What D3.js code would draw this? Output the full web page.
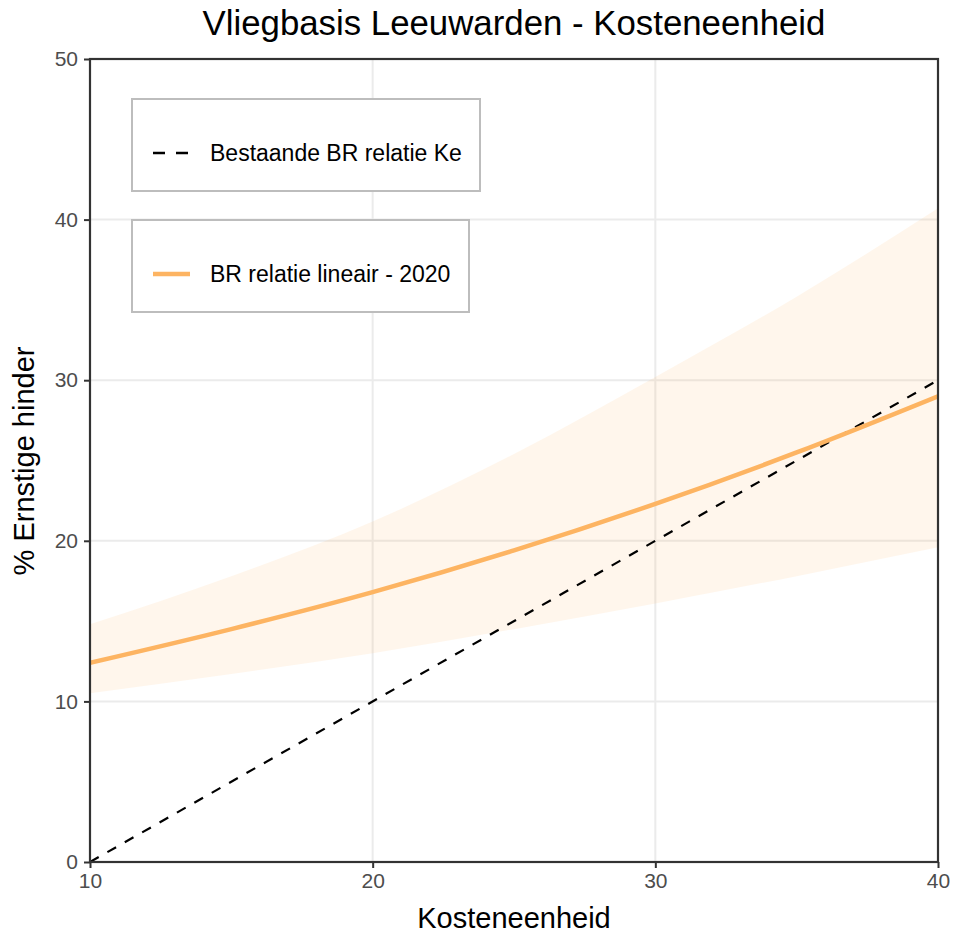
<!DOCTYPE html>
<html><head><meta charset="utf-8">
<script src="https://cdn.jsdelivr.net/npm/d3@7"></script>
<style>body{margin:0;background:#fff}svg{display:block}text{font-family:"Liberation Sans",Arial,sans-serif}</style>
</head><body><svg id="c" width="955" height="933"></svg>
<script>
const xValues = [10, 15, 20, 25, 30, 35, 40];
const fitValues = [12.4, 14.5, 16.8, 19.4, 22.3, 25.5, 29.0];
const upperValues = [14.8, 17.8, 21.2, 25.4, 30.2, 35.2, 40.7];
const lowerValues = [10.5, 11.7, 13.0, 14.5, 16.1, 17.8, 19.6];
const refX = [10, 40];
const refY = [0, 30];
const xTicks = [10, 20, 30, 40];
const yTicks = [0, 10, 20, 30, 40, 50];
const legendLabels = ["Bestaande BR relatie Ke", "BR relatie lineair - 2020"];

const svg = d3.select("#c");
const L = 90, R = 938, T = 59, B = 862;
const x = d3.scaleLinear().domain([10, 40]).range([L, R]);
const y = d3.scaleLinear().domain([0, 50]).range([B, T]);

// grid
const g = svg.append("g");
g.selectAll(".gx").data(xTicks).enter().append("line")
  .attr("x1", d => x(d)).attr("x2", d => x(d)).attr("y1", T).attr("y2", B)
  .attr("stroke", "#ebebeb").attr("stroke-width", 2);
g.selectAll(".gy").data(yTicks).enter().append("line")
  .attr("y1", d => y(d)).attr("y2", d => y(d)).attr("x1", L).attr("x2", R)
  .attr("stroke", "#ebebeb").attr("stroke-width", 2);

const pts = xValues.map((v, i) => ({x: v, f: fitValues[i], u: upperValues[i], l: lowerValues[i]}));
svg.append("clipPath").attr("id", "cl").append("rect")
  .attr("x", L).attr("y", T).attr("width", R - L).attr("height", B - T);
const pg = svg.append("g").attr("clip-path", "url(#cl)");
pg.append("path").datum(pts)
  .attr("d", d3.area().x(d => x(d.x)).y0(d => y(d.l)).y1(d => y(d.u)).curve(d3.curveMonotoneX))
  .attr("fill", "#fdb462").attr("fill-opacity", 0.12);
pg.append("path").datum(refX.map((v, i) => [v, refY[i]]))
  .attr("d", d3.line().x(d => x(d[0])).y(d => y(d[1])))
  .attr("fill", "none").attr("stroke", "#000").attr("stroke-width", 2.2).attr("stroke-dasharray", "10,10");
pg.append("path").datum(pts)
  .attr("d", d3.line().x(d => x(d.x)).y(d => y(d.f)).curve(d3.curveMonotoneX))
  .attr("fill", "none").attr("stroke", "#fdb462").attr("stroke-width", 4.5);

// axes
const xa = svg.append("g").attr("transform", `translate(0,${B})`)
  .call(d3.axisBottom(x).tickValues(xTicks).tickSize(6).tickPadding(5).tickFormat(d3.format("d")));
const ya = svg.append("g").attr("transform", `translate(${L},0)`)
  .call(d3.axisLeft(y).tickValues(yTicks).tickSize(6).tickPadding(6).tickFormat(d3.format("d")));
[xa, ya].forEach(a => {
  a.select(".domain").remove();
  a.attr("font-size", null).attr("font-family", null);
  a.selectAll("line").attr("stroke", "#333").attr("stroke-width", 2);
  a.selectAll("text").attr("fill", "#4d4d4d").style("font-size", "21px");
});
svg.append("rect").attr("x", L).attr("y", T).attr("width", R - L).attr("height", B - T)
  .attr("fill", "none").attr("stroke", "#333").attr("stroke-width", 2.2);

// titles
svg.append("text").attr("x", 514).attr("y", 35).attr("text-anchor", "middle")
  .style("font-size", "34.8px").attr("fill", "#000").text("Vliegbasis Leeuwarden - Kosteneenheid");
svg.append("text").attr("x", 514).attr("y", 928).attr("text-anchor", "middle")
  .style("font-size", "29px").attr("fill", "#000").text("Kosteneenheid");
svg.append("text").attr("transform", "translate(34,461) rotate(-90)").attr("text-anchor", "middle")
  .style("font-size", "29px").attr("fill", "#000").text("% Ernstige hinder");

// legends
const leg = [
  {y0: 99, w: 348, label: legendLabels[0], dash: true},
  {y0: 220, w: 337, label: legendLabels[1], dash: false}
];
leg.forEach(o => {
  const lg = svg.append("g");
  lg.append("rect").attr("x", 132).attr("y", o.y0).attr("width", o.w).attr("height", 92)
    .attr("fill", "#fff").attr("stroke", "#bdbdbd").attr("stroke-width", 2);
  const cy = o.y0 + 54;
  if (o.dash) {
    lg.append("line").attr("x1", 153).attr("x2", 188).attr("y1", cy).attr("y2", cy)
      .attr("stroke", "#000").attr("stroke-width", 2.4).attr("stroke-dasharray", "12,11");
  } else {
    lg.append("line").attr("x1", 153).attr("x2", 190).attr("y1", cy).attr("y2", cy)
      .attr("stroke", "#fdb462").attr("stroke-width", 4.5);
  }
  lg.append("text").attr("x", 210).attr("y", cy + 8).style("font-size", "23px").attr("fill", "#000").text(o.label);
});
</script></body></html>
